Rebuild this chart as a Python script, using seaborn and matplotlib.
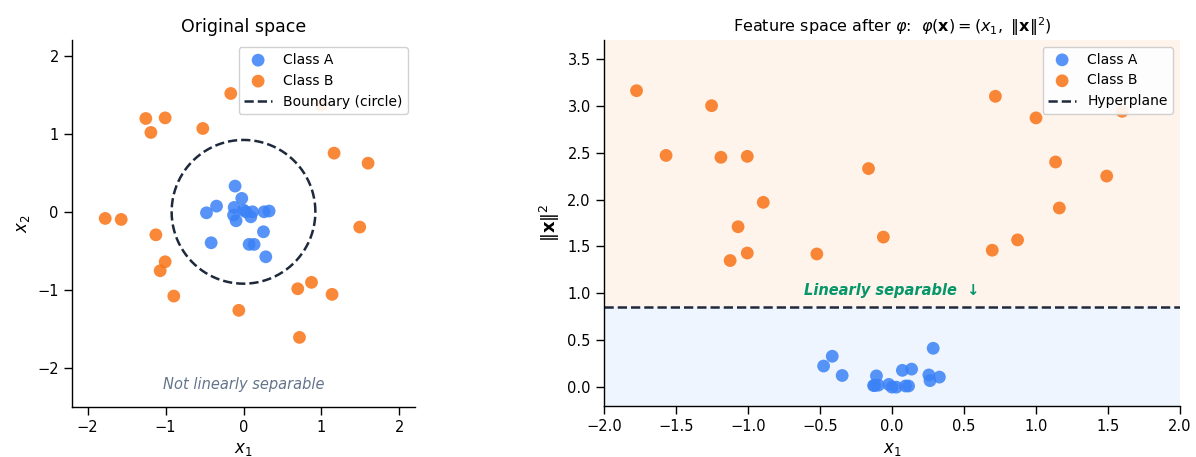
import numpy as np
import matplotlib
matplotlib.use("Agg")
import matplotlib.pyplot as plt
import seaborn as sns

# ---- data ----
A_x1 = [-0.108, -0.022, -0.346, -0.475, -0.12, -0.128, -0.095, 0.0, 0.03,
        0.094, 0.115, 0.264, 0.329, 0.256, -0.415, 0.072, 0.136, 0.286]
A_x2 = [0.33, 0.172, 0.073, -0.013, 0.056, -0.042, -0.115, 0.022, 0.0,
        -0.064, 0.0, 0.0, 0.01, -0.256, -0.397, -0.418, -0.418, -0.577]
A_norm2 = [0.121, 0.030, 0.125, 0.226, 0.018, 0.018, 0.022, 0.001, 0.001,
           0.013, 0.013, 0.070, 0.108, 0.131, 0.330, 0.180, 0.193, 0.415]

B_x1 = [-0.163, -1.253, -1.005, -1.188, -0.522, 1.0, 1.162, 1.598, -1.774, -1.569,
        -1.124, 1.491, -1.005, -1.069, -0.894, -0.06, 0.696, 0.872, 1.136, 0.718]
B_x2 = [1.518, 1.197, 1.205, 1.018, 1.069, 1.37, 0.753, 0.624, -0.085, -0.098,
        -0.295, -0.196, -0.641, -0.756, -1.081, -1.264, -0.987, -0.905, -1.059, -1.611]
B_norm2 = [2.33, 3.00, 2.46, 2.45, 1.42, 2.87, 1.91, 2.94, 3.16, 2.47,
           1.35, 2.25, 1.43, 1.71, 1.97, 1.60, 1.46, 1.57, 2.40, 3.10]

threshold = 0.85
left_ticks = [-2, -1, 0, 1, 2]
right_xticks = [-2.0, -1.5, -1.0, -0.5, 0.0, 0.5, 1.0, 1.5, 2.0]
right_yticks = [0.0, 0.5, 1.0, 1.5, 2.0, 2.5, 3.0, 3.5]

# ---- style ----
sns.set_theme(style="ticks")
plt.rcParams["font.family"] = ["DejaVu Sans"]
plt.rcParams["xtick.labelsize"] = 10.5
plt.rcParams["ytick.labelsize"] = 10.5
plt.rcParams["axes.edgecolor"] = "black"
plt.rcParams["axes.linewidth"] = 1.0
plt.rcParams["text.color"] = "black"
plt.rcParams["axes.labelcolor"] = "black"
plt.rcParams["xtick.color"] = "black"
plt.rcParams["ytick.color"] = "black"
plt.rcParams["xtick.major.width"] = 1.0
plt.rcParams["ytick.major.width"] = 1.0

BLUE = "#3b82f6"
ORANGE = "#f97316"
DARK = "#1e293b"
MS = 85
ALPHA = 0.85

fig = plt.figure(figsize=(11.96, 4.57), dpi=100)
W, H = 1196, 457
ax1 = fig.add_axes([72 / W, (H - 407) / H, 343 / W, 367 / H])
ax2 = fig.add_axes([604 / W, (H - 406) / H, 576 / W, 366 / H])

# ---- left: original space ----
sns.scatterplot(x=A_x1, y=A_x2, color=BLUE, s=MS, alpha=ALPHA, edgecolor="none",
                label="Class A", ax=ax1)
sns.scatterplot(x=B_x1, y=B_x2, color=ORANGE, s=MS, alpha=ALPHA, edgecolor="none",
                label="Class B", ax=ax1)
theta = np.linspace(0, 2 * np.pi, 400)
r = np.sqrt(threshold)
ax1.plot(r * np.cos(theta), r * np.sin(theta), ls="--", color=DARK, lw=1.8,
         label="Boundary (circle)")
ax1.set_xlim(-2.2, 2.2)
ax1.set_ylim(-2.5, 2.2)
ax1.set_aspect("equal", adjustable="box")
ax1.set_xticks(left_ticks)
ax1.set_yticks(left_ticks)
ax1.set_xlabel("$x_1$", fontsize=12)
ax1.set_ylabel("$x_2$", fontsize=12)
ax1.set_title("Original space", fontsize=12.5)
ax1.text(0, -2.21, "Not linearly separable", color="#64748b", style="italic",
         ha="center", va="center", fontsize=10.5)
ax1.legend(loc="upper right", fontsize=10, framealpha=0.9)
sns.despine(ax=ax1)

# ---- right: feature space ----
ax2.axhspan(-0.2, threshold, color=BLUE, alpha=0.08, lw=0)
ax2.axhspan(threshold, 3.7, color=ORANGE, alpha=0.08, lw=0)
sns.scatterplot(x=A_x1, y=A_norm2, color=BLUE, s=MS, alpha=ALPHA, edgecolor="none",
                label="Class A", ax=ax2)
sns.scatterplot(x=B_x1, y=B_norm2, color=ORANGE, s=MS, alpha=ALPHA, edgecolor="none",
                label="Class B", ax=ax2)
ax2.axhline(threshold, ls="--", color=DARK, lw=1.8, label="Hyperplane")
ax2.set_xlim(-2.0, 2.0)
ax2.set_ylim(-0.2, 3.7)
ax2.set_xticks(right_xticks)
ax2.set_yticks(right_yticks)
ax2.set_xlabel("$x_1$", fontsize=12)
ax2.set_ylabel(r"$\|\mathbf{x}\|^2$", fontsize=13)
ax2.set_title(r"Feature space after $\varphi$:  $\varphi(\mathbf{x}) = (x_1,\ \|\mathbf{x}\|^2)$",
              fontsize=11.5)
ax2.text(0, 1.03, "Linearly separable  ↓", color="#059669", style="italic",
         fontweight="bold", ha="center", va="center", fontsize=10.5)
ax2.legend(loc="upper right", fontsize=10, framealpha=0.9)
sns.despine(ax=ax2)

fig.savefig("out.png", dpi=100)
